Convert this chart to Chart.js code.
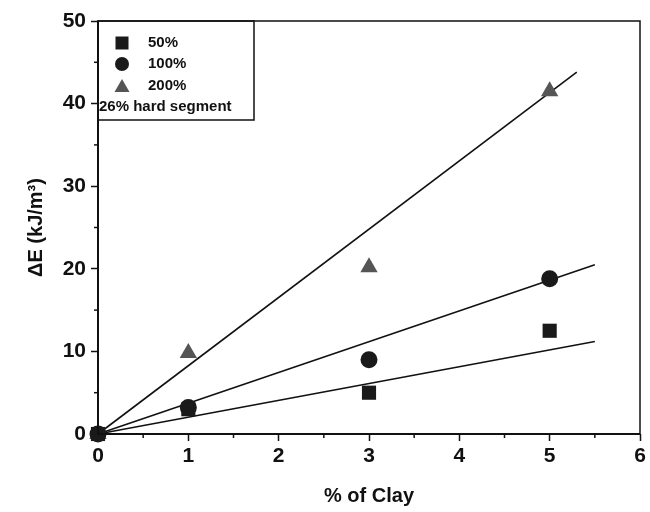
<!DOCTYPE html>
<html>
<head>
<meta charset="utf-8">
<script src="https://cdn.jsdelivr.net/npm/chart.js@4.4.1/dist/chart.umd.min.js"></script>
<style>
  body { margin: 0; background: #fff; }
</style>
</head>
<body>
<canvas id="grafico" width="650" height="512"></canvas>
<script>
// datos
const clay = [0, 1, 3, 5];
const e50 = [0, 3.0, 5.0, 12.5];
const e100 = [0, 3.2, 9.0, 18.8];
const e200 = [0, 9.8, 20.2, 41.5];

// rectas de ajuste (extremos)
const fit50x = [0, 5.5], fit50y = [0, 11.2];
const fit100x = [0, 5.5], fit100y = [0, 20.5];
const fit200x = [0, 5.3], fit200y = [0, 43.8];

const etiquetas = ['50%', '100%', '200%'];
const notaLeyenda = '26% hard segment';

const pares = (xs, ys) => xs.map((x, i) => ({ x: x, y: ys[i] }));

const fuente = "'Liberation Sans', Arial, sans-serif";

// marco + ticks menores + leyenda
const marco = {
    id: 'marco',
    afterDraw(chart) {
        const ctx = chart.ctx;
        const a = chart.chartArea;
        ctx.save();
        ctx.strokeStyle = '#111';
        ctx.lineWidth = 1.5;
        ctx.strokeRect(a.left, a.top, a.right - a.left, a.bottom - a.top);
        ctx.lineWidth = 2;
        ctx.beginPath();
        ctx.moveTo(a.left, a.top); ctx.lineTo(a.left, a.bottom); ctx.lineTo(a.right, a.bottom);
        ctx.stroke();

        // ticks menores
        ctx.lineWidth = 1.5;
        const sx = chart.scales.x, sy = chart.scales.y;
        for (let v = 0.5; v < 6; v += 1) {
            const p = sx.getPixelForValue(v);
            ctx.beginPath(); ctx.moveTo(p, a.bottom); ctx.lineTo(p, a.bottom + 4); ctx.stroke();
        }
        for (let v = 5; v < 50; v += 10) {
            const p = sy.getPixelForValue(v);
            ctx.beginPath(); ctx.moveTo(a.left, p); ctx.lineTo(a.left - 4, p); ctx.stroke();
        }

        // leyenda
        const lx = a.left, ly = a.top, lw = 156, lh = 99;
        ctx.lineWidth = 1.5;
        ctx.strokeRect(lx, ly, lw, lh);
        ctx.font = "bold 15px " + fuente;
        ctx.textBaseline = 'middle';
        ctx.fillStyle = '#111';
        const filas = [ly + 22, ly + 43, ly + 65];
        const ds = chart.data.datasets;
        for (let i = 0; i < 3; i++) {
            const cx = lx + 24, cy = filas[i];
            ctx.fillStyle = ds[i].backgroundColor;
            ctx.beginPath();
            if (i === 0) ctx.rect(cx - 6.5, cy - 6.5, 13, 13);
            else if (i === 1) ctx.arc(cx, cy, 7, 0, Math.PI * 2);
            else { ctx.moveTo(cx, cy - 7); ctx.lineTo(cx + 7.5, cy + 6); ctx.lineTo(cx - 7.5, cy + 6); ctx.closePath(); }
            ctx.fill();
            ctx.fillStyle = '#111';
            ctx.textAlign = 'left';
            ctx.fillText(etiquetas[i], lx + 50, cy);
        }
        ctx.fillText(notaLeyenda, lx + 1, ly + 86);
        ctx.restore();
    }
};

const punto = (datos, estilo, radio, color) => ({
    type: 'scatter', data: pares(clay, datos), pointStyle: estilo, pointRadius: radio,
    backgroundColor: color, borderColor: color, borderWidth: 0, clip: false, showLine: false
});
const recta = (xs, ys) => ({
    type: 'line', data: pares(xs, ys), borderColor: '#111', borderWidth: 1.6,
    pointRadius: 0, fill: false, clip: false
});

new Chart(document.getElementById('grafico'), {
    data: {
        datasets: [
            punto(e50, 'rect', 10, '#1a1a1a'),
            punto(e100, 'circle', 8.5, '#1a1a1a'),
            punto(e200, 'triangle', 10, '#555555'),
            recta(fit50x, fit50y),
            recta(fit100x, fit100y),
            recta(fit200x, fit200y)
        ]
    },
    options: {
        responsive: false,
        animation: false,
        devicePixelRatio: 1,
        layout: { padding: { top: 21, right: 9, left: 20, bottom: 0 } },
        plugins: { legend: { display: false }, tooltip: { enabled: false } },
        scales: {
            x: {
                type: 'linear', min: 0, max: 6,
                ticks: { stepSize: 1, color: '#111', font: { family: fuente, size: 21, weight: 'bold' }, padding: 3 },
                grid: { drawOnChartArea: false, tickLength: 7, color: '#111', tickWidth: 1.5 },
                border: { display: false },
                title: { display: true, text: '% of Clay', color: '#111', font: { family: fuente, size: 20, weight: 'bold' }, padding: { top: 12 } },
                afterFit(s) { s.height = 78; }
            },
            y: {
                min: 0, max: 50,
                ticks: { stepSize: 10, color: '#111', font: { family: fuente, size: 21, weight: 'bold' }, padding: 5 },
                grid: { drawOnChartArea: false, tickLength: 7, color: '#111', tickWidth: 1.5 },
                border: { display: false },
                title: { display: true, text: 'ΔE (kJ/m³)', color: '#111', font: { family: fuente, size: 20, weight: 'bold' }, padding: { bottom: 4 } },
                afterFit(s) { s.width = 78; }
            }
        }
    },
    plugins: [marco]
});
</script>
</body>
</html>
